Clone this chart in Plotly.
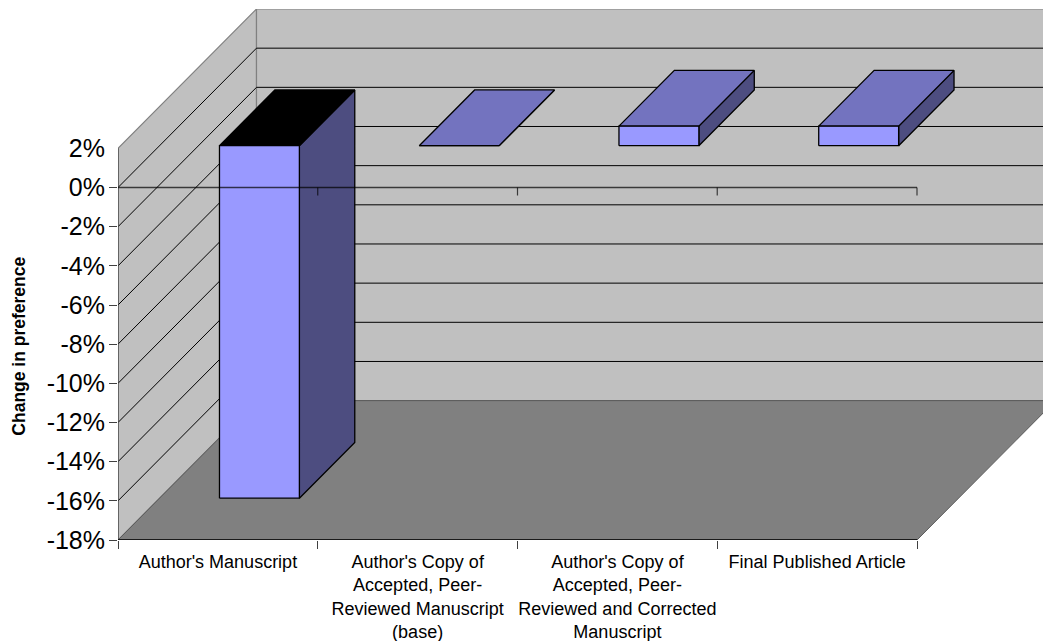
import plotly.graph_objects as go

# Chart data
categories = [
    "Author's Manuscript",
    "Author's Copy of<br>Accepted, Peer-<br>Reviewed Manuscript<br>(base)",
    "Author's Copy of<br>Accepted, Peer-<br>Reviewed and Corrected<br>Manuscript",
    "Final Published Article",
]
change_pct = [-18, 0, 1, 1]
y_ticks = [2, 0, -2, -4, -6, -8, -10, -12, -14, -16, -18]
y_tick_labels = [f"{v}%" for v in y_ticks]

# Oblique projection: a unit of depth shifts a point right and up on the axes
PX_PER_CATEGORY = 199.75
PX_PER_PCT = 19.6
DEPTH_PX_X = 138.5
DEPTH_PX_Y = 139.5
DEPTH_X = DEPTH_PX_X / PX_PER_CATEGORY
DEPTH_Y = DEPTH_PX_Y / PX_PER_PCT

Y_MIN, Y_MAX = y_ticks[-1], y_ticks[0]
N = len(categories)
BAR_START, BAR_END = 0.3, 0.7  # share of a category slot and of the depth

FONT = "Liberation Sans, Arial, sans-serif"
WALL = "#C0C0C0"
FLOOR = "#808080"
EDGE = "#808080"
FRONT = "#9999FF"
SIDE = "#4D4D80"
TOP = "#7373BF"
TOP_NEGATIVE = "#000000"

PLOT_LEFT, PLOT_BOTTOM = 118, 540.5
PLOT_TOP = PLOT_BOTTOM - (Y_MAX - Y_MIN) * PX_PER_PCT - DEPTH_PX_Y
FIG_W, FIG_H = 1043, 641


def project(cat, value, depth):
    return cat + depth * DEPTH_X, value + depth * DEPTH_Y


def polygon(points, fill, line_color="#000000", line_width=1.3):
    xy = [project(*p) for p in points]
    xy.append(xy[0])
    return go.Scatter(
        x=[p[0] for p in xy], y=[p[1] for p in xy],
        mode="lines", fill="toself", fillcolor=fill,
        line=dict(color=line_color, width=line_width),
        hoverinfo="skip", showlegend=False,
    )


def polyline(points, color="#000000", width=1.0, clip=True):
    xy = [project(*p) for p in points]
    return go.Scatter(
        x=[p[0] for p in xy], y=[p[1] for p in xy],
        mode="lines", line=dict(color=color, width=width),
        hoverinfo="skip", showlegend=False, cliponaxis=clip,
    )


fig = go.Figure()

# Walls and floor
fig.add_trace(polygon([(0, Y_MAX, 0), (0, Y_MAX, 1), (0, Y_MIN, 1), (0, Y_MIN, 0)], WALL, EDGE, 1.2))
fig.add_trace(polygon([(0, Y_MAX, 1), (N, Y_MAX, 1), (N, Y_MIN, 1), (0, Y_MIN, 1)], WALL, EDGE, 1.2))

# Gridlines run along the side wall and across the back wall
for v in y_ticks[1:-1]:
    fig.add_trace(polyline([(0, v, 0), (0, v, 1), (N, v, 1)], "#000000", 1.0))

fig.add_trace(polygon([(0, Y_MIN, 0), (N, Y_MIN, 0), (N, Y_MIN, 1), (0, Y_MIN, 1)], FLOOR, "#5a5a5a", 1.0))

# Columns: side face, end face, front face
for i, val in enumerate(change_pct):
    x0, x1 = i + BAR_START, i + BAR_END
    d0, d1 = BAR_START, BAR_END
    low, high = min(val, 0), max(val, 0)
    fig.add_trace(polygon([(x1, low, d0), (x1, low, d1), (x1, high, d1), (x1, high, d0)], SIDE))
    top_color = TOP_NEGATIVE if val < 0 else TOP
    fig.add_trace(polygon([(x0, high, d0), (x1, high, d0), (x1, high, d1), (x0, high, d1)], top_color))
    fig.add_trace(polygon([(x0, low, d0), (x1, low, d0), (x1, high, d0), (x0, high, d0)], FRONT))

# Axis lines, drawn last so the zero line crosses the columns
fig.add_trace(polyline([(0, Y_MIN, 0), (0, Y_MAX, 0)], "#404040", 1.2))
fig.add_trace(polyline([(0, Y_MIN, 0), (N, Y_MIN, 0)], "#000000", 1.5))
fig.add_trace(polyline([(0, 0, 0), (N, 0, 0)], "rgba(0,0,0,0.7)", 1.6))
for c in range(1, N + 1):
    fig.add_trace(polyline([(c, 0, 0), (c, -8 / PX_PER_PCT, 0)], "rgba(0,0,0,0.7)", 1.2))

fig.update_layout(
    width=FIG_W,
    height=FIG_H,
    autosize=False,
    margin=dict(l=PLOT_LEFT, r=0, t=PLOT_TOP, b=FIG_H - PLOT_BOTTOM, pad=0),
    paper_bgcolor="#FFFFFF",
    plot_bgcolor="rgba(0,0,0,0)",
    showlegend=False,
    font=dict(family=FONT, color="#000000"),
    xaxis=dict(
        range=[0, (FIG_W - PLOT_LEFT) / PX_PER_CATEGORY],
        tickmode="array",
        tickvals=[i + 0.5 for i in range(N)],
        ticktext=categories,
        ticks="",
        tickangle=0,
        ticklabelstandoff=9,
        tickfont=dict(size=18, family=FONT, color="#000000"),
        showgrid=False,
        zeroline=False,
        showline=False,
        minor=dict(
            tickmode="array",
            tickvals=list(range(N + 1)),
            ticks="outside",
            ticklen=8,
            tickwidth=1,
            tickcolor="#404040",
            showgrid=False,
        ),
    ),
    yaxis=dict(
        range=[Y_MIN, Y_MAX + DEPTH_Y],
        tickmode="array",
        tickvals=y_ticks,
        ticktext=y_tick_labels,
        ticks="",
        ticklabelstandoff=12,
        tickfont=dict(size=25, family=FONT, color="#000000"),
        showgrid=False,
        zeroline=False,
        showline=False,
        # The top value carries a label but no tick mark
        minor=dict(
            tickmode="array",
            tickvals=y_ticks[1:],
            ticks="outside",
            ticklen=8,
            tickwidth=1,
            tickcolor="#404040",
            showgrid=False,
        ),
    ),
    annotations=[
        dict(
            text="<b>Change in preference</b>",
            textangle=-90,
            xref="paper", yref="paper",
            x=(19 - PLOT_LEFT) / (FIG_W - PLOT_LEFT),
            y=(PLOT_BOTTOM - 347) / (PLOT_BOTTOM - PLOT_TOP),
            xanchor="center", yanchor="middle",
            showarrow=False,
            font=dict(size=17.5, family=FONT, color="#000000"),
        )
    ],
)

fig.write_html("out.html", config=dict(displayModeBar=False))
